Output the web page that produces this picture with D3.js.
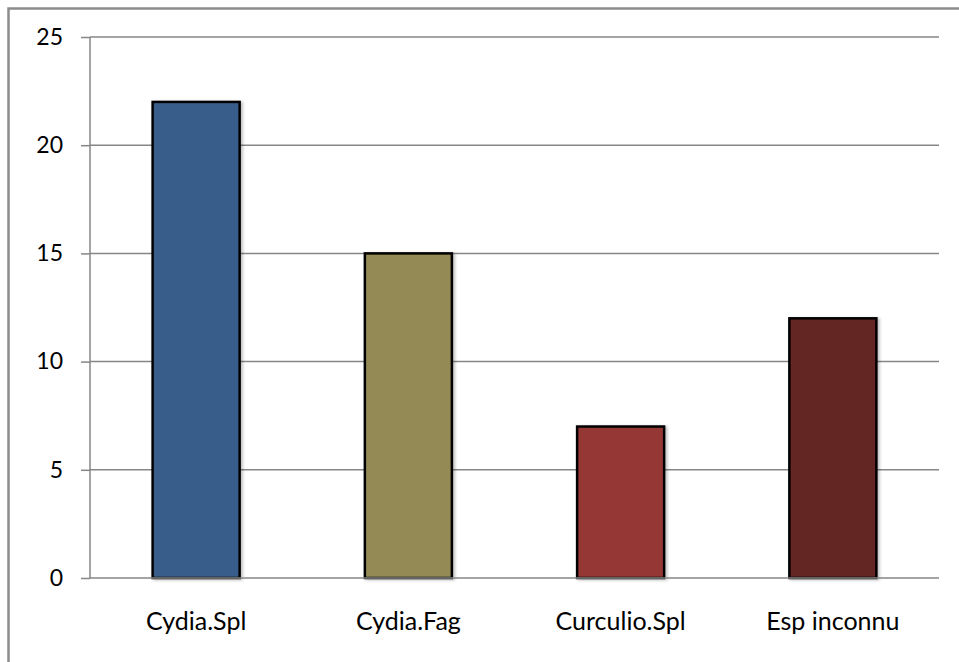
<!DOCTYPE html>
<html>
<head>
<meta charset="utf-8">
<script src="https://cdn.jsdelivr.net/npm/d3@7"></script>
<style>
  html, body { margin: 0; padding: 0; background: #fff; }
  svg { display: block; }
  text { font-family: Lato, "Open Sans", "Liberation Sans", sans-serif; fill: #000; }
</style>
</head>
<body>
<svg id="chart" width="959" height="662"></svg>
<script>
const categories = ["Cydia.Spl", "Cydia.Fag", "Curculio.Spl", "Esp inconnu"];
const values = [22, 15, 7, 12];
const colors = ["#385D8A", "#948A54", "#953735", "#632523"];
const yTicks = [0, 5, 10, 15, 20, 25];

const svg = d3.select("#chart");
const W = 959, H = 662;
const plot = { left: 90, right: 939, top: 37, bottom: 578 };

// outer chart border (only top/left visible in frame)
svg.append("rect")
  .attr("x", 8.5).attr("y", 8.5)
  .attr("width", W + 20).attr("height", H + 20)
  .attr("fill", "#fff").attr("stroke", "#8c8c8c").attr("stroke-width", 2.5);

const defs = svg.append("defs");
const f = defs.append("filter").attr("id", "shadow")
  .attr("x", "-10%").attr("y", "-10%").attr("width", "130%").attr("height", "130%");
f.append("feDropShadow").attr("dx", 2).attr("dy", 1).attr("stdDeviation", 1.5)
  .attr("flood-color", "#000").attr("flood-opacity", 0.25);

const x = d3.scaleBand().domain(categories)
  .range([plot.left, plot.right]).paddingInner(0.59).paddingOuter(0.295);
const y = d3.scaleLinear().domain([0, 25]).range([plot.bottom, plot.top]);

// gridlines
svg.append("g").selectAll("line").data(yTicks.filter(d => d > 0)).join("line")
  .attr("x1", plot.left).attr("x2", plot.right)
  .attr("y1", d => y(d)).attr("y2", d => y(d))
  .attr("stroke", "#868686").attr("stroke-width", 1.5);

// y axis
const yAxis = svg.append("g").attr("transform", `translate(${plot.left},0)`)
  .call(d3.axisLeft(y).tickValues(yTicks).tickSize(9).tickPadding(18).tickFormat(d3.format("d")));
yAxis.select(".domain").attr("stroke", "#868686").attr("stroke-width", 1.5)
  .attr("d", `M0,${plot.top}V${plot.bottom}`);
yAxis.selectAll(".tick line").attr("stroke", "#868686").attr("stroke-width", 1.5);
yAxis.selectAll(".tick text").attr("font-size", 23)
  .style("font-family", "Lato, 'Open Sans', 'Liberation Sans', sans-serif").attr("fill", "#000");

// bars
svg.append("g").selectAll("rect").data(values).join("rect")
  .attr("x", (d, i) => x(categories[i]))
  .attr("y", d => y(d))
  .attr("width", x.bandwidth())
  .attr("height", d => y(0) - y(d))
  .attr("fill", (d, i) => colors[i])
  .attr("stroke", "#000").attr("stroke-width", 2.5)
  .attr("filter", "url(#shadow)");

// x axis baseline
svg.append("line")
  .attr("x1", plot.left).attr("x2", plot.right)
  .attr("y1", y(0)).attr("y2", y(0))
  .attr("stroke", "#868686").attr("stroke-width", 1.5);

// x labels
svg.append("g").selectAll("text").data(categories).join("text")
  .attr("x", d => x(d) + x.bandwidth() / 2)
  .attr("y", 630)
  .attr("text-anchor", "middle")
  .attr("font-size", 25)
  .text(d => d);
</script>
</body>
</html>
